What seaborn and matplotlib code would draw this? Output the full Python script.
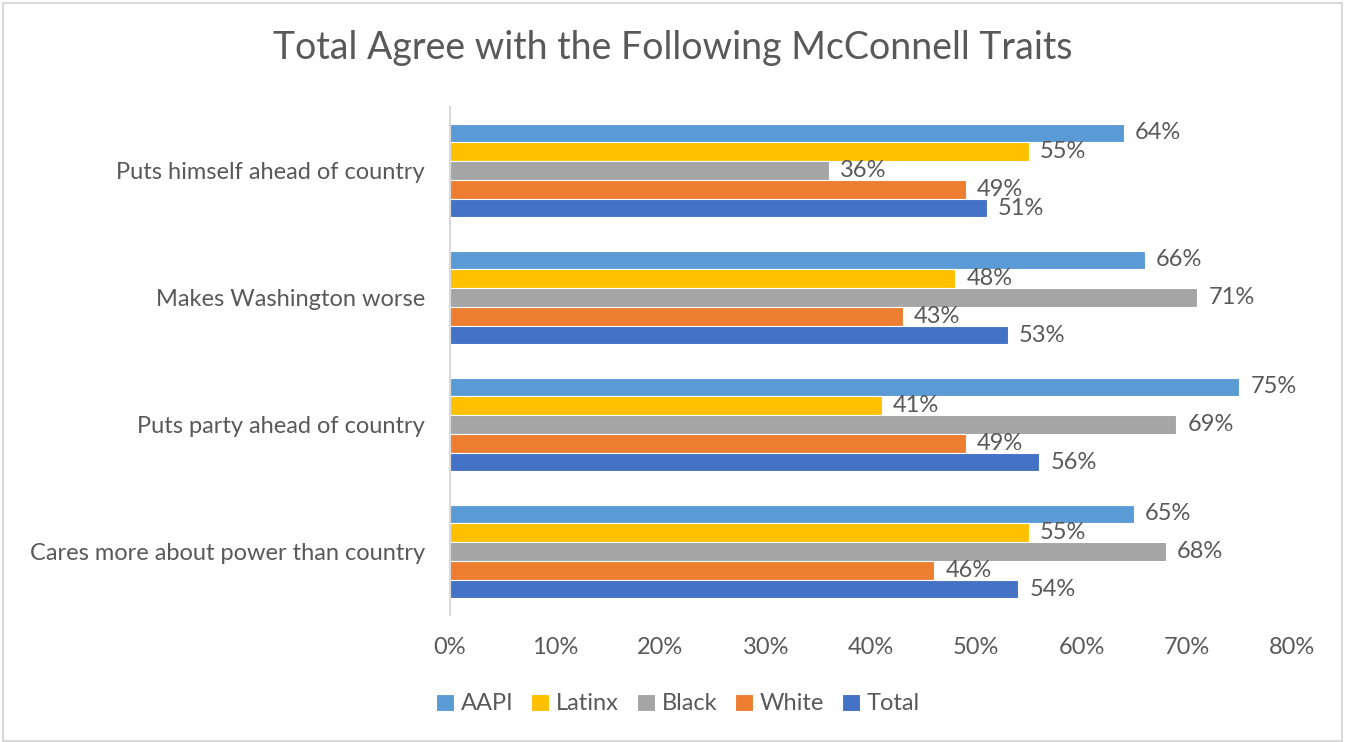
import matplotlib
matplotlib.use("Agg")
import matplotlib.pyplot as plt
import seaborn as sns
import pandas as pd
from matplotlib.patches import Rectangle

categories = ["Puts himself ahead of country", "Makes Washington worse",
              "Puts party ahead of country", "Cares more about power than country"]
groups = ["AAPI", "Latinx", "Black", "White", "Total"]
aapi = [64, 66, 75, 65]
latinx = [55, 48, 41, 55]
black = [36, 71, 69, 68]
white = [49, 43, 49, 46]
total = [51, 53, 56, 54]
colors = ["#5B9BD5", "#FFC000", "#A5A5A5", "#ED7D31", "#4472C4"]
xticks = [0, 10, 20, 30, 40, 50, 60, 70, 80]

rows = []
for g, vals in zip(groups, [aapi, latinx, black, white, total]):
    for c, v in zip(categories, vals):
        rows.append({"category": c, "group": g, "value": v})
df = pd.DataFrame(rows)

sns.set_theme(style="white")
plt.rcParams["font.family"] = ["Lato", "DejaVu Sans"]
txt = "#595959"
fs = 17

fig = plt.figure(figsize=(13.45, 7.42), dpi=100)
ax = fig.add_axes([450/1345, 1-615/742, 842/1345, 508/742])
sns.barplot(data=df, y="category", x="value", hue="group", order=categories,
            hue_order=groups, palette=colors, saturation=1, orient="h", width=0.74, gap=0,
            edgecolor="white", linewidth=0.8, ax=ax, legend=True)

for cont in ax.containers:
    ax.bar_label(cont, labels=[f"{int(v)}%" for v in cont.datavalues], padding=8,
                 fontsize=fs, color=txt)

ax.set_xlim(0, 80)
ax.set_xticks(xticks)
ax.set_xticklabels([f"{t}%" for t in xticks], fontsize=fs, color=txt)
ax.tick_params(axis="x", length=0, pad=16)
ax.tick_params(axis="y", length=0, pad=18, labelsize=fs, labelcolor=txt)
ax.set_xlabel("")
ax.set_ylabel("")
for s in ["top", "right", "bottom"]:
    ax.spines[s].set_visible(False)
ax.spines["left"].set_color("#D9D9D9")
ax.spines["left"].set_linewidth(1.5)
ax.grid(False)

h, l = ax.get_legend_handles_labels()
ax.get_legend().remove()
leg = fig.legend(h, l, loc="center", bbox_to_anchor=(678/1345, 1-704/742), ncol=5,
                 frameon=False, fontsize=fs, handlelength=0.75, handleheight=0.75,
                 handletextpad=0.3, columnspacing=0.75)
for t in leg.get_texts():
    t.set_color(txt)

fig.text(673/1345, 1-48/742, "Total Agree with the Following McConnell Traits",
         ha="center", va="center", fontsize=27, color=txt)

fig.patches.append(Rectangle((0.002, 0.002), 0.996, 0.994, transform=fig.transFigure,
                             fill=False, edgecolor="#D9D9D9", linewidth=1.5))

fig.savefig("out.png", dpi=100, facecolor="white")
